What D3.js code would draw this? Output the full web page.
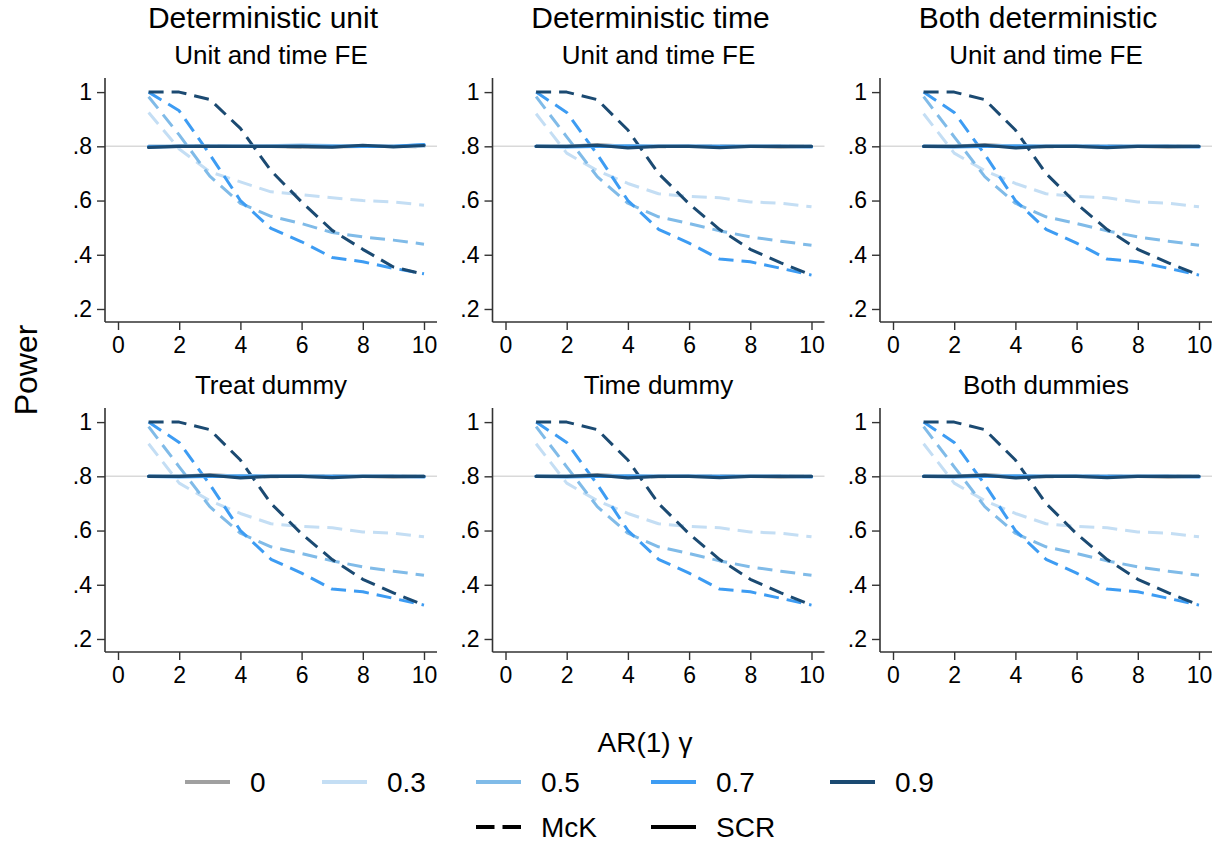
<!DOCTYPE html>
<html>
<head>
<meta charset="utf-8">
<script src="https://cdn.jsdelivr.net/npm/d3@7"></script>
<style>
  html, body { margin: 0; padding: 0; background: #fff; }
  svg { display: block; font-family: "Liberation Sans", Arial, Helvetica, sans-serif; }
</style>
</head>
<body>
<svg id="chart" width="1225" height="844"></svg>
<script>
// ---------------- DATA ----------------
const xValues = [1, 2, 3, 4, 5, 6, 7, 8, 9, 10];
const gammaLabels = ["0", "0.3", "0.5", "0.7", "0.9"];
const columnTitles = ["Deterministic unit", "Deterministic time", "Both deterministic"];
const panelSubtitles = ["Unit and time FE", "Unit and time FE", "Unit and time FE",
                        "Treat dummy", "Time dummy", "Both dummies"];
const xTickValues = [0, 2, 4, 6, 8, 10];
const yTickValues = [0.2, 0.4, 0.6, 0.8, 1];
const yTickLabels = [".2", ".4", ".6", ".8", "1"];
const methodLabels = ["McK", "SCR"];
const targetPower = 0.8;

// Panel 1 (Deterministic unit, unit and time FE): one row per gamma (0, .3, .5, .7, .9)
const mckPanel1 = [
  [0.798, 0.801, 0.802, 0.799, 0.800, 0.797, 0.799, 0.801, 0.800, 0.798],
  [0.925, 0.790, 0.706, 0.669, 0.632, 0.622, 0.610, 0.600, 0.595, 0.583],
  [0.983, 0.842, 0.690, 0.590, 0.542, 0.515, 0.482, 0.466, 0.454, 0.439],
  [1.000, 0.931, 0.770, 0.600, 0.497, 0.448, 0.390, 0.374, 0.350, 0.330],
  [1.000, 1.000, 0.973, 0.866, 0.710, 0.595, 0.490, 0.420, 0.355, 0.328]
];
const scrPanel1 = [
  [0.800, 0.800, 0.801, 0.800, 0.800, 0.797, 0.798, 0.800, 0.800, 0.800],
  [0.800, 0.800, 0.800, 0.800, 0.802, 0.806, 0.803, 0.800, 0.800, 0.800],
  [0.800, 0.800, 0.800, 0.800, 0.800, 0.803, 0.802, 0.800, 0.800, 0.805],
  [0.798, 0.800, 0.800, 0.800, 0.800, 0.800, 0.800, 0.800, 0.800, 0.806],
  [0.796, 0.800, 0.800, 0.800, 0.800, 0.800, 0.797, 0.804, 0.798, 0.803]
];
// Panels 2-6
const mckOther = [
  [0.800, 0.799, 0.801, 0.800, 0.798, 0.800, 0.801, 0.799, 0.800, 0.800],
  [0.920, 0.775, 0.710, 0.663, 0.625, 0.615, 0.610, 0.595, 0.590, 0.577],
  [0.983, 0.835, 0.688, 0.590, 0.540, 0.515, 0.488, 0.466, 0.450, 0.435],
  [1.000, 0.925, 0.770, 0.600, 0.494, 0.443, 0.384, 0.374, 0.350, 0.325],
  [1.000, 1.000, 0.972, 0.860, 0.700, 0.588, 0.493, 0.420, 0.370, 0.325]
];
const scrOther = [
  [0.800, 0.800, 0.806, 0.800, 0.800, 0.800, 0.800, 0.800, 0.797, 0.800],
  [0.800, 0.800, 0.800, 0.803, 0.800, 0.800, 0.800, 0.800, 0.800, 0.800],
  [0.800, 0.800, 0.800, 0.803, 0.800, 0.801, 0.800, 0.800, 0.800, 0.800],
  [0.800, 0.798, 0.800, 0.800, 0.800, 0.800, 0.800, 0.800, 0.800, 0.798],
  [0.800, 0.800, 0.804, 0.794, 0.800, 0.800, 0.795, 0.800, 0.800, 0.800]
];

// ---------------- STYLE / LAYOUT ----------------
const colors = ["#a0a0a0", "#c4def4", "#80bbe8", "#3d9cf3", "#1b4a72"];
const panelData = [
  [mckPanel1, scrPanel1],
  [mckOther, scrOther], [mckOther, scrOther],
  [mckOther, scrOther], [mckOther, scrOther], [mckOther, scrOther]
];
const colLeft = [105, 492.5, 880];
const rowTop = [78, 408];
const plotW = 332, plotH = 244;
const font = '"Liberation Sans", Arial, Helvetica, sans-serif';

const svg = d3.select("#chart");

// Column titles
columnTitles.forEach((t, c) => {
  svg.append("text")
    .attr("x", colLeft[c] + plotW / 2 - 8)
    .attr("y", 28)
    .attr("text-anchor", "middle")
    .attr("font-size", 30)
    .attr("fill", "#000")
    .text(t);
});

// Y axis title
svg.append("text")
  .attr("transform", "translate(37,370) rotate(-90)")
  .attr("text-anchor", "middle")
  .attr("font-size", 32)
  .attr("fill", "#000")
  .text("Power");

const line = (xs, ys) => d3.line().x((d, i) => xs(xValues[i])).y(d => ys(d));

panelSubtitles.forEach((sub, p) => {
  const c = p % 3, r = Math.floor(p / 3);
  const left = colLeft[c], top = rowTop[r];
  const x = d3.scaleLinear().domain([-0.425, 10.425]).range([left, left + plotW]);
  const y = d3.scaleLinear().domain([0.152, 1.052]).range([top + plotH, top]);
  const g = svg.append("g");

  // subtitle
  g.append("text")
    .attr("x", left + plotW / 2)
    .attr("y", top - 14)
    .attr("text-anchor", "middle")
    .attr("font-size", 26)
    .attr("fill", "#000")
    .text(sub);

  // reference line at target power
  g.append("line")
    .attr("x1", left).attr("x2", left + plotW)
    .attr("y1", y(targetPower)).attr("y2", y(targetPower))
    .attr("stroke", "#d9d9d9").attr("stroke-width", 1.6);

  // axes
  const yAxis = d3.axisLeft(y).tickValues(yTickValues)
    .tickFormat((d, i) => yTickLabels[i]).tickSize(8).tickPadding(5);
  const ya = g.append("g").attr("transform", `translate(${left},0)`).call(yAxis);
  const xAxis = d3.axisBottom(x).tickValues(xTickValues).tickSize(8).tickPadding(6);
  const xa = g.append("g").attr("transform", `translate(0,${top + plotH})`).call(xAxis);
  [ya, xa].forEach(a => {
    a.select(".domain").remove();
    a.selectAll(".tick line").attr("stroke", "#333").attr("stroke-width", 1.4);
    a.selectAll("text").attr("font-size", 23).attr("font-family", font).attr("fill", "#000");
  });
  xa.selectAll("text").attr("dy", "0.72em");
  g.append("line").attr("x1", left).attr("x2", left).attr("y1", top).attr("y2", top + plotH)
    .attr("stroke", "#333").attr("stroke-width", 1.6);
  g.append("line").attr("x1", left).attr("x2", left + plotW).attr("y1", top + plotH).attr("y2", top + plotH)
    .attr("stroke", "#333").attr("stroke-width", 1.6);

  const [mck, scr] = panelData[p];
  const gen = line(x, y);
  mck.forEach((vals, k) => {
    g.append("path").datum(vals).attr("d", gen)
      .attr("fill", "none").attr("stroke", colors[k]).attr("stroke-width", 3)
      .attr("stroke-dasharray", "15,8").attr("stroke-linejoin", "round");
  });
  scr.forEach((vals, k) => {
    g.append("path").datum(vals).attr("d", gen)
      .attr("fill", "none").attr("stroke", colors[k]).attr("stroke-width", 3.2)
      .attr("stroke-linejoin", "round").attr("stroke-linecap", "round");
  });
});

// Legend
svg.append("text").attr("x", 645).attr("y", 752).attr("text-anchor", "middle")
  .attr("font-size", 28).attr("fill", "#000").text("AR(1) γ");

const legendKeyX = [185, 322, 476, 651, 830];
const keyLen = 45;
gammaLabels.forEach((lab, k) => {
  svg.append("line").attr("x1", legendKeyX[k]).attr("x2", legendKeyX[k] + keyLen)
    .attr("y1", 782).attr("y2", 782).attr("stroke", colors[k]).attr("stroke-width", 4);
  svg.append("text").attr("x", legendKeyX[k] + keyLen + 20).attr("y", 782)
    .attr("dy", "0.36em").attr("font-size", 28).attr("fill", "#000").text(lab);
});
const methodKeyX = [476, 651];
methodLabels.forEach((lab, k) => {
  svg.append("line").attr("x1", methodKeyX[k]).attr("x2", methodKeyX[k] + keyLen)
    .attr("y1", 827).attr("y2", 827).attr("stroke", "#000").attr("stroke-width", 4)
    .attr("stroke-dasharray", k === 0 ? "18.5,8" : null);
  svg.append("text").attr("x", methodKeyX[k] + keyLen + 20).attr("y", 827)
    .attr("dy", "0.36em").attr("font-size", 28).attr("fill", "#000").text(lab);
});
</script>
</body>
</html>
